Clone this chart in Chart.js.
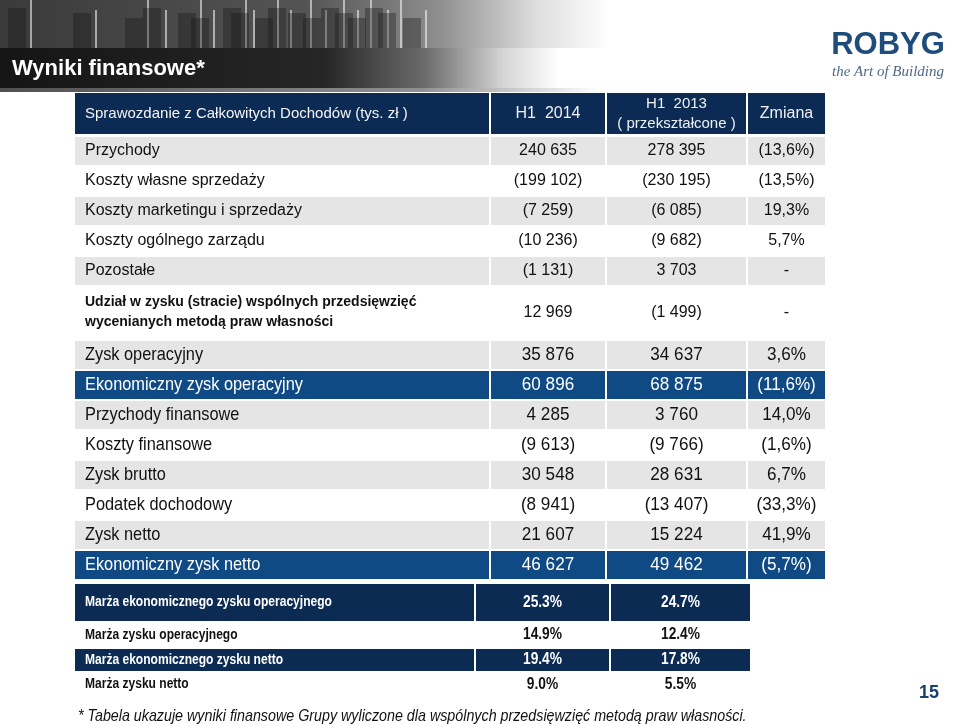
<!DOCTYPE html>
<html>
<head>
<meta charset="utf-8">
<script src="https://cdn.jsdelivr.net/npm/chart.js@4.4.0/dist/chart.umd.min.js"></script>
<style>
  html, body { margin: 0; padding: 0; background: #fff; }
  #slide { display: block; }
</style>
</head>
<body>
<canvas id="slide" width="960" height="726"></canvas>
<script>
// ---- data ----
const title = 'Wyniki finansowe*';
const tableTitle = 'Sprawozdanie z Całkowitych Dochodów (tys. zł )';
const periodLabels = [['H1  2014'], ['H1  2013', '( przekształcone )'], ['Zmiana']];

const rowLabels = [
  'Przychody',
  'Koszty własne sprzedaży',
  'Koszty marketingu i sprzedaży',
  'Koszty ogólnego zarządu',
  'Pozostałe',
  ['Udział w zysku (stracie) wspólnych przedsięwzięć', 'wycenianych metodą praw własności'],
  'Zysk operacyjny',
  'Ekonomiczny zysk operacyjny',
  'Przychody finansowe',
  'Koszty finansowe',
  'Zysk brutto',
  'Podatek dochodowy',
  'Zysk netto',
  'Ekonomiczny zysk netto'
];
const h1_2014 = [240635, -199102, -7259, -10236, -1131, 12969, 35876, 60896, 4285, -9613, 30548, -8941, 21607, 46627];
const h1_2013 = [278395, -230195, -6085, -9682, 3703, -1499, 34637, 68875, 3760, -9766, 28631, -13407, 15224, 49462];
const changePct = [-13.6, -13.5, 19.3, 5.7, null, null, 3.6, -11.6, 14.0, -1.6, 6.7, -33.3, 41.9, -5.7];

const marginLabels = [
  'Marża ekonomicznego zysku operacyjnego',
  'Marża zysku operacyjnego',
  'Marża ekonomicznego zysku netto',
  'Marża zysku netto'
];
const margin2014 = [25.3, 14.9, 19.4, 9.0];
const margin2013 = [24.7, 12.4, 17.8, 5.5];

const footnote = '* Tabela ukazuje wyniki finansowe Grupy wyliczone dla wspólnych przedsięwzięć metodą praw własności.';
const pageNo = '15';

// ---- layout (slide units = pixels of the 960x726 page) ----
const mainCols = [[75, 489], [491, 605], [607, 746], [748, 825]];
const marginCols = [[75, 474], [476, 609], [611, 750]];
const headerTop = 92, headerHeight = 43;
const rowTop = 136;
const rowHeights = [30, 30, 30, 30, 30, 54, 30, 30, 30, 30, 30, 30, 30, 30];
const rowFill = ['gray', 'white', 'gray', 'white', 'gray', 'white', 'gray', 'blue', 'gray', 'white', 'gray', 'white', 'gray', 'blue'];
const rowStyle = ['plain', 'plain', 'plain', 'plain', 'plain', 'small', 'narrow', 'narrow', 'narrow', 'narrow', 'narrow', 'narrow', 'narrow', 'narrow'];
const marginTop = 583;
const marginHeights = [39, 26, 24, 25];
const marginFill = ['navy', 'white', 'navy', 'white'];
const fills = { gray: '#e5e5e5', white: null, blue: '#0f4a84', navy: '#0b2b52', head: '#0b2b55' };

const SANS = '"Liberation Sans", Arial, sans-serif';

function fmtAmount(v) {
  const s = Math.abs(v).toString().replace(/\B(?=(\d{3})+(?!\d))/g, ' ');
  return v < 0 ? '(' + s + ')' : s;
}
function fmtChange(v) {
  if (v === null) return '-';
  const s = Math.abs(v).toFixed(1).replace('.', ',') + '%';
  return v < 0 ? '(' + s + ')' : s;
}
function fmtMargin(v) {
  return v.toFixed(1) + '%';
}

// ---- bands: one per table row ----
const bands = [];
bands.push({ top: headerTop, height: headerHeight, cols: mainCols, fill: 'head', kind: 'header' });
let yTop = rowTop;
rowLabels.forEach((label, i) => {
  bands.push({
    top: yTop, height: rowHeights[i], cols: mainCols, fill: rowFill[i], kind: 'main', style: rowStyle[i],
    cells: [label, fmtAmount(h1_2014[i]), fmtAmount(h1_2013[i]), fmtChange(changePct[i])]
  });
  yTop += rowHeights[i];
});
yTop = marginTop;
marginLabels.forEach((label, i) => {
  bands.push({
    top: yTop, height: marginHeights[i], cols: marginCols, fill: marginFill[i], kind: 'margin',
    cells: [label, fmtMargin(margin2014[i]), fmtMargin(margin2013[i])]
  });
  yTop += marginHeights[i];
});

// cell backgrounds are floating bars on the x scale, centred on the row on the y scale
const datasets = bands.filter(b => fills[b.fill]).map(b => ({
  data: b.cols.map(c => ({ x: c, y: b.top + b.height / 2 })),
  backgroundColor: fills[b.fill],
  barThickness: b.height - 2,
  stack: 'table',
  borderWidth: 0,
  inflateAmount: 0
}));

function drawText(ctx, text, x, y, font, color, align, sx) {
  ctx.save();
  ctx.font = font;
  ctx.fillStyle = color;
  ctx.textAlign = align || 'left';
  ctx.textBaseline = 'middle';
  ctx.translate(x, y);
  ctx.scale(sx || 1, 1);
  ctx.fillText(text, 0, 0);
  ctx.restore();
}

const finX = [30, 95, 147, 165, 200, 213, 245, 253, 277, 290, 310, 325, 343, 357, 370, 387, 400, 425];

function drawBanner(ctx) {
  ctx.save();
  let g = ctx.createLinearGradient(0, 0, 610, 0);
  g.addColorStop(0, '#3a3a3a');
  g.addColorStop(0.5, '#545454');
  g.addColorStop(0.72, '#8e8e8e');
  g.addColorStop(0.88, '#dedede');
  g.addColorStop(1, '#ffffff');
  ctx.fillStyle = g;
  ctx.fillRect(0, 0, 610, 48);
  // facade blocks and fins of the photo
  finX.forEach((x, i) => {
    ctx.fillStyle = 'rgba(20,20,20,0.35)';
    ctx.fillRect(x - 22, 8 + (i % 3) * 5, 18, 40);
    ctx.fillStyle = 'rgba(255,255,255,0.55)';
    ctx.fillRect(x, (i % 2) * 10, 2, 48 - (i % 2) * 10);
  });
  g = ctx.createLinearGradient(0, 0, 560, 0);
  g.addColorStop(0, '#151515');
  g.addColorStop(0.58, '#262626');
  g.addColorStop(0.76, '#6c6c6c');
  g.addColorStop(0.9, '#d6d6d6');
  g.addColorStop(1, '#ffffff');
  ctx.fillStyle = g;
  ctx.fillRect(0, 48, 560, 40);
  g = ctx.createLinearGradient(0, 0, 600, 0);
  g.addColorStop(0, '#505050');
  g.addColorStop(0.7, '#909090');
  g.addColorStop(1, '#ffffff');
  ctx.fillStyle = g;
  ctx.fillRect(0, 88, 600, 4);
  ctx.restore();
  drawText(ctx, title, 12, 69, 'bold 22px ' + SANS, '#ffffff');
}

const tablePlugin = {
  id: 'tableText',
  beforeDatasetsDraw(chart) {
    drawBanner(chart.ctx);
  },
  afterDatasetsDraw(chart) {
    const ctx = chart.ctx;
    const xs = chart.scales.x, ys = chart.scales.y;
    const left = c => xs.getPixelForValue(c[0]) + 10;
    const mid = c => (xs.getPixelForValue(c[0]) + xs.getPixelForValue(c[1])) / 2;

    bands.forEach(b => {
      const cy = ys.getPixelForValue(b.top + b.height / 2);
      const dark = b.fill === 'blue' || b.fill === 'navy' || b.fill === 'head';
      const color = dark ? '#ffffff' : '#111111';
      if (b.kind === 'header') {
        drawText(ctx, tableTitle, left(b.cols[0]), cy, '15px ' + SANS, '#f4f4f4');
        periodLabels.forEach((lines, j) => {
          const x = mid(b.cols[j + 1]);
          if (lines.length === 1) {
            drawText(ctx, lines[0], x, cy, '16px ' + SANS, '#f0f0f0', 'center');
          } else {
            drawText(ctx, lines[0], x, cy - 10, '15px ' + SANS, '#f0f0f0', 'center');
            drawText(ctx, lines[1], x, cy + 10, '15px ' + SANS, '#f0f0f0', 'center');
          }
        });
        return;
      }
      if (b.kind === 'main') {
        let labelFont = '16px ' + SANS, valueFont = '16px ' + SANS, lsx = 1, vsx = 1;
        if (b.style === 'narrow') {
          labelFont = '19px ' + SANS; valueFont = '19px ' + SANS; lsx = 0.86; vsx = 0.9;
        }
        const label = b.cells[0];
        if (Array.isArray(label)) {
          drawText(ctx, label[0], left(b.cols[0]), cy - 11, 'bold 14px ' + SANS, color);
          drawText(ctx, label[1], left(b.cols[0]), cy + 9, 'bold 14px ' + SANS, color);
        } else {
          drawText(ctx, label, left(b.cols[0]), cy, labelFont, color, 'left', lsx);
        }
        for (let j = 1; j < 4; j++) {
          drawText(ctx, b.cells[j], mid(b.cols[j]), cy, valueFont, color, 'center', vsx);
        }
        return;
      }
      // margin table
      drawText(ctx, b.cells[0], left(b.cols[0]), cy, 'bold 14px ' + SANS, color, 'left', 0.86);
      drawText(ctx, b.cells[1], mid(b.cols[1]), cy, 'bold 16px ' + SANS, color, 'center', 0.86);
      drawText(ctx, b.cells[2], mid(b.cols[2]), cy, 'bold 16px ' + SANS, color, 'center', 0.86);
    });

    drawText(ctx, footnote, xs.getPixelForValue(78), ys.getPixelForValue(716), 'italic 17px ' + SANS, '#111111', 'left', 0.84);
  },
  afterDraw(chart) {
    const ctx = chart.ctx;
    drawText(ctx, 'ROBYG', 888, 45, 'bold 31px ' + SANS, '#1e4c7b', 'center');
    drawText(ctx, 'the Art of Building', 888, 72, 'italic 15px "Liberation Serif", serif', '#4d6888', 'center');
    drawText(ctx, pageNo, 929, 693, 'bold 18px ' + SANS, '#1a3f6b', 'center');
  }
};

new Chart(document.getElementById('slide').getContext('2d'), {
  type: 'bar',
  data: { datasets: datasets },
  options: {
    responsive: false,
    animation: false,
    devicePixelRatio: 1,
    indexAxis: 'y',
    events: [],
    layout: { padding: 0 },
    plugins: {
      legend: { display: false },
      tooltip: { enabled: false }
    },
    scales: {
      x: { type: 'linear', min: 0, max: 960, display: false, stacked: false, offset: false },
      y: { type: 'linear', min: 0, max: 726, reverse: true, display: false, offset: false }
    }
  },
  plugins: [tablePlugin]
});
</script>
</body>
</html>
